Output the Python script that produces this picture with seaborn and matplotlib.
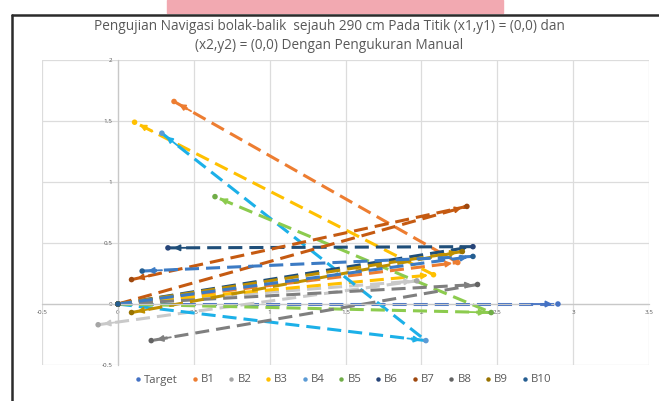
import numpy as np
import pandas as pd
import matplotlib
matplotlib.use("Agg")
import matplotlib.pyplot as plt
import seaborn as sns
from matplotlib.lines import Line2D
from matplotlib.patches import Rectangle

# ============ Data ============
SERIES = ["Target", "B1", "B2", "B3", "B4", "B5", "B6", "B7", "B8", "B9", "B10"]

# each run: start -> turnaround -> return point
X_TARGET = [0.0, 2.90]
Y_TARGET = [0.0, 0.0]
X_B1 = [0.0, 2.24, 0.37]
Y_B1 = [0.0, 0.34, 1.66]
X_B2 = [0.0, 1.97, -0.13]
Y_B2 = [0.0, 0.19, -0.17]
X_B3 = [0.0, 2.08, 0.11]
Y_B3 = [0.0, 0.24, 1.49]
X_B4 = [0.0, 2.03, 0.29]
Y_B4 = [0.0, -0.30, 1.40]
X_B5 = [0.0, 2.46, 0.64]
Y_B5 = [0.0, -0.07, 0.88]
X_B6 = [0.0, 2.34, 0.33]
Y_B6 = [0.0, 0.47, 0.46]
X_B7 = [0.0, 2.30, 0.09]
Y_B7 = [0.0, 0.80, 0.20]
X_B8 = [0.0, 2.37, 0.22]
Y_B8 = [0.0, 0.16, -0.30]
X_B9 = [0.0, 2.27, 0.09]
Y_B9 = [0.0, 0.43, -0.07]
X_B10 = [0.0, 2.34, 0.16]
Y_B10 = [0.0, 0.39, 0.27]

XS = [X_TARGET, X_B1, X_B2, X_B3, X_B4, X_B5, X_B6, X_B7, X_B8, X_B9, X_B10]
YS = [Y_TARGET, Y_B1, Y_B2, Y_B3, Y_B4, Y_B5, Y_B6, Y_B7, Y_B8, Y_B9, Y_B10]

TITLE = ("Pengujian Navigasi bolak-balik  sejauh 290 cm Pada Titik (x1,y1) = (0,0) dan\n"
         "(x2,y2) = (0,0) Dengan Pengukuran Manual")

# ============ Styling ============
MARKER_COLORS = ["#4472C4", "#ED7D31", "#A5A5A5", "#FFC000", "#5B9BD5", "#70AD47",
                 "#264478", "#9E480E", "#636363", "#997300", "#255E91"]
LINE_COLORS = ["#4472C4", "#ED7D31", "#C9C9C9", "#FFC000", "#1CB0E8", "#8CCB4E",
               "#1F4E79", "#C55A11", "#7F7F7F", "#BF9000", "#3C7BC4"]
TEXT_GRAY = "#595959"
GRID_GRAY = "#DCDCDC"

sns.set_style("white")
plt.rcParams["font.family"] = ["Open Sans", "DejaVu Sans"]

# ============ Build table ============
rows = []
for name, xs, ys in zip(SERIES, XS, YS):
    for i, (x, y) in enumerate(zip(xs, ys)):
        rows.append({"series": name, "order": i, "x": x, "y": y})
df = pd.DataFrame(rows)

fig = plt.figure(figsize=(6.59, 4.01), dpi=100)
ax = fig.add_axes([42 / 659, 1 - 365 / 401, (649 - 42) / 659, (365 - 60) / 401])

sns.lineplot(data=df, x="x", y="y", hue="series", hue_order=SERIES,
             palette=dict(zip(SERIES, LINE_COLORS)), sort=False, estimator=None,
             linewidth=2.2, linestyle=(0, (4.6, 2.3)), legend=False, ax=ax, zorder=2)

# arrow heads at the end of each leg
for name, xs, ys, col in zip(SERIES, XS, YS, LINE_COLORS):
    for i in range(1, len(xs)):
        x0, y0, x1, y1 = xs[i - 1], ys[i - 1], xs[i], ys[i]
        ax.annotate("", xy=(x1, y1),
                    xytext=(x1 - 0.06 * (x1 - x0), y1 - 0.06 * (y1 - y0)),
                    arrowprops=dict(arrowstyle="-|>", color=col, lw=1.3,
                                    mutation_scale=9, shrinkA=0, shrinkB=4),
                    zorder=3)

sns.scatterplot(data=df, x="x", y="y", hue="series", hue_order=SERIES,
                palette=dict(zip(SERIES, MARKER_COLORS)), s=16, edgecolor="none",
                ax=ax, zorder=4)

# ============ Axes (Excel look) ============
ax.set_xlim(-0.5, 3.5)
ax.set_ylim(-0.5, 2)
ax.set_xticks(np.arange(-0.5, 3.51, 0.5))
ax.set_yticks(np.arange(-0.5, 2.01, 0.5))
ax.set_xticklabels(["-0.5", "0", "0.5", "1", "1.5", "2", "2.5", "3", "3.5"])
ax.set_yticklabels(["-0.5", "0", "0.5", "1", "1.5", "2"])
ax.grid(True, color=GRID_GRAY, linewidth=0.9)
ax.set_axisbelow(True)
ax.set_xlabel("")
ax.set_ylabel("")
ax.spines["left"].set_position(("data", 0))
ax.spines["bottom"].set_position(("data", 0))
for s in ["left", "bottom"]:
    ax.spines[s].set_color("#C8C8C8")
    ax.spines[s].set_linewidth(0.9)
for s in ["top", "right"]:
    ax.spines[s].set_visible(False)
ax.tick_params(axis="both", length=2, width=0.6, color="#C8C8C8",
               labelsize=4.5, labelcolor=TEXT_GRAY, pad=2)

# legend: dots only
handles = [Line2D([], [], marker="o", linestyle="none", markersize=3.2,
                  markerfacecolor=c, markeredgecolor="none") for c in MARKER_COLORS]
ax.legend_.remove()
fig.legend(handles, SERIES, loc="center", bbox_to_anchor=(342 / 659, 1 - 380 / 401),
           ncol=len(SERIES), frameon=False, fontsize=8.2, labelcolor=TEXT_GRAY,
           handletextpad=0.05, columnspacing=0.95, handlelength=1.0)

fig.text(0.5, 1 - 36 / 401, TITLE, ha="center", va="center", fontsize=9.8,
         color=TEXT_GRAY, linespacing=1.45)

# page frame and header band
fig.patches.append(Rectangle((167 / 659, 1 - 13 / 401), (503 - 167) / 659, 13 / 401,
                             transform=fig.transFigure, color="#F2A9B1", zorder=0))
fig.add_artist(Line2D([12 / 659, 12 / 659], [0, 1 - 15 / 401], transform=fig.transFigure,
                      color="#2B2B2B", linewidth=1.8))
fig.add_artist(Line2D([12 / 659, 1], [1 - 15 / 401, 1 - 15 / 401], transform=fig.transFigure,
                      color="#2B2B2B", linewidth=1.8))

fig.savefig("out.png", dpi=100)
